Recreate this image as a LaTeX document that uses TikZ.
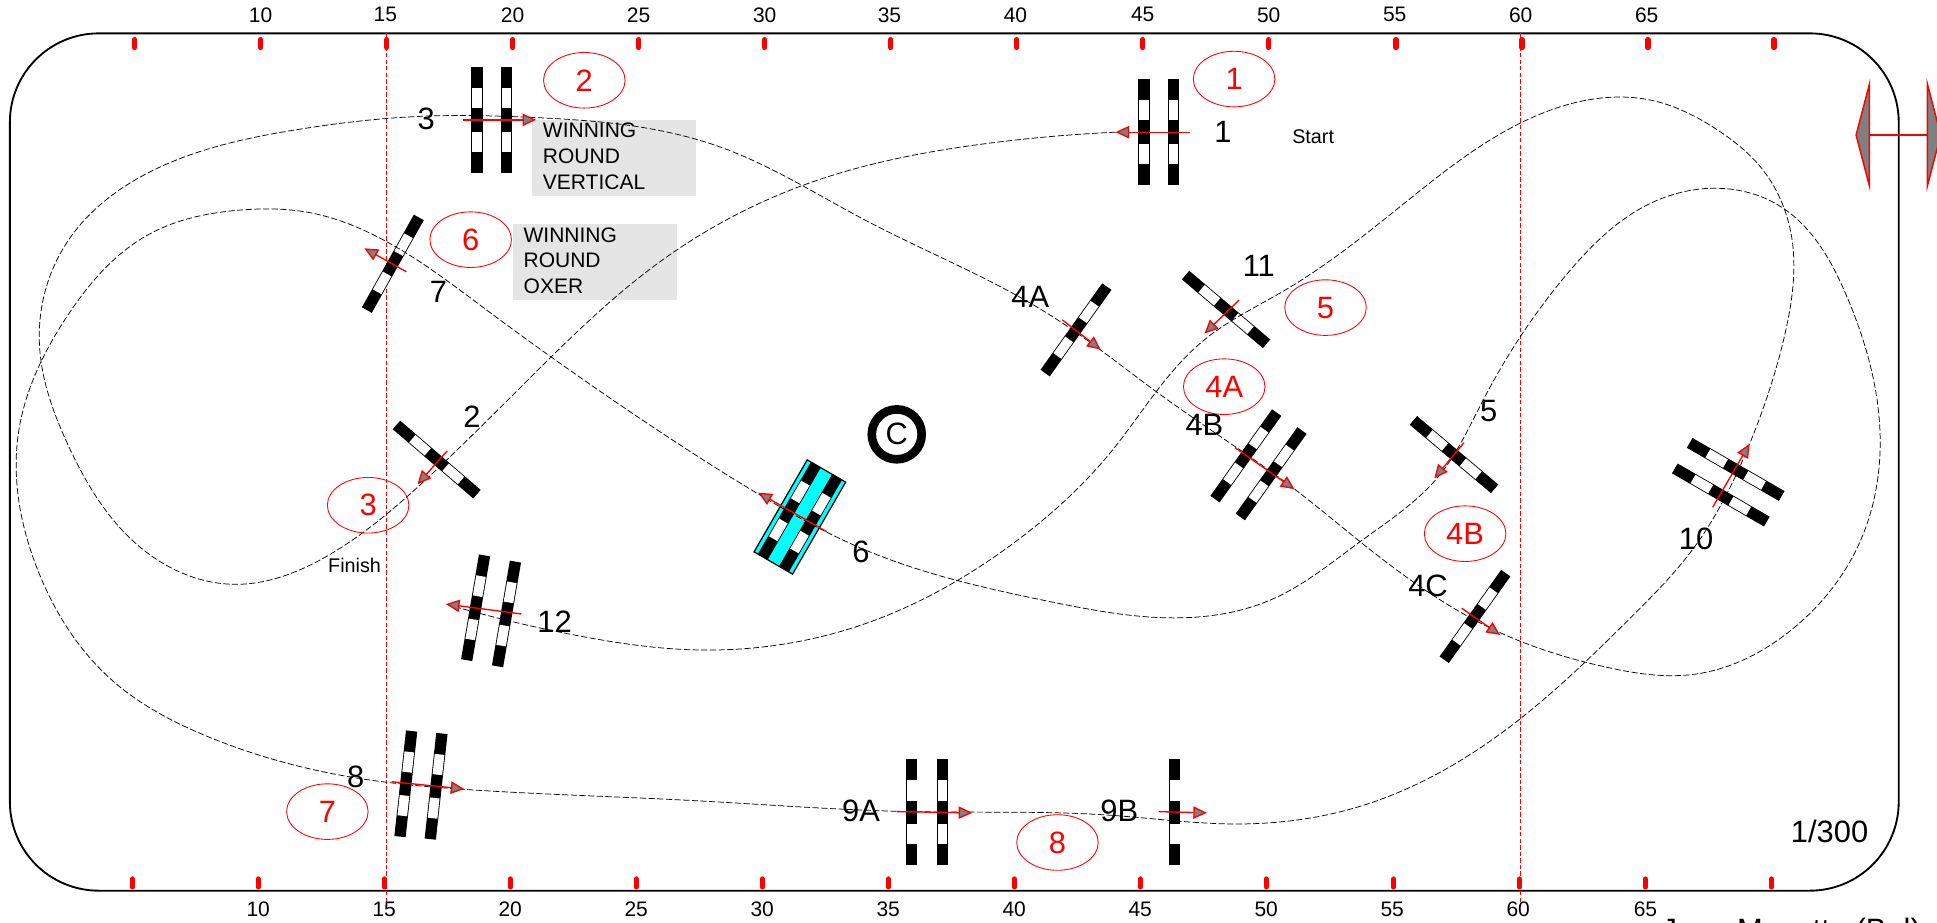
\documentclass[tikz,border=0pt]{standalone}
\usepackage{fontspec}
\setmainfont{Liberation Sans}
\usetikzlibrary{arrows.meta,shapes.geometric,hobby}
\definecolor{boxgray}{HTML}{E5E5E5}
\definecolor{aqua}{HTML}{00FFFF}
\tikzset{
 course/.style={black,line width=0.6pt,dash pattern=on 5pt off 2pt},
 runarrow/.style={red,line width=1.1pt,-{Triangle[length=11pt,width=10pt,fill=gray]}},
 centerline/.style={red,line width=0.6pt,dash pattern=on 3.5pt off 1.8pt},
 numel/.style={draw=red,line width=0.7pt,ellipse,minimum width=66pt,minimum height=45pt,inner sep=0pt,text=red,font=\fontsize{25}{30}\selectfont},
 lab/.style={font=\fontsize{25}{30}\selectfont,inner sep=0pt},
 ticklab/.style={font=\fontsize{17}{20}\selectfont,inner sep=0pt},
 smalllab/.style={font=\fontsize{16}{19}\selectfont,inner sep=0pt},
 boxlab/.style={font=\fontsize{17}{21}\selectfont,inner sep=0pt,anchor=west},
 tickmark/.style={red,line width=4.2pt,line cap=round},
 marker/.style={draw=red,fill=gray,line width=1.2pt,line join=miter},
}
\newcommand{\fencebar}{%
 \fill[black] (-43,-4.6) rectangle (43,4.6);
 \fill[white] (-26,-3.9) rectangle (-9.5,3.9);
 \fill[white] (9.5,-3.9) rectangle (26,3.9);
}
\newcommand{\fence}[3]{\begin{scope}[shift={(#1,#2)},rotate=#3]\fencebar\end{scope}}
\begin{document}
\begin{tikzpicture}[x=1pt,y=-1pt]
\useasboundingbox (0,0) rectangle (1568,747);
\clip (0,0) rectangle (1568,747);
\fill[white] (0,0) rectangle (1568,747);
% gray boxes
\fill[boxgray] (430.6,97.1) rectangle (563.4,158.7);
\fill[boxgray] (415.3,181.4) rectangle (548,242.9);
% arena
\draw[black,line width=1.5pt,rounded corners=72pt] (8,27) rectangle (1537,721);
\draw[centerline] (313,27) -- (313,732);
\draw[centerline] (1231,27) -- (1231,732);
% ticks
\foreach \x in {109,211,313,415,517,619,721,823,925,1027,1130,1232,1334,1436}
  \draw[tickmark] (\x,32) -- (\x,38.5);
\foreach \x in {107,209,311,413,515,617,719,821,923,1025,1128,1230,1332,1434}
  \draw[tickmark] (\x,711.5) -- (\x,718);
\foreach \x/\t in {211/10,312/15,415/20,517/25,619/30,720/35,822/40,925/45,1027/50,1129/55,1231/60,1333/65}
  \node[ticklab] (top\t) at (\x,12) {\t};
\foreach \x/\t in {209/10,311/15,413/20,515/25,617/30,719/35,821/40,923/45,1025/50,1127/55,1229/60,1332/65}
  \node[ticklab] (bot\t) at (\x,736) {\t};
% oxer with water
\begin{scope}[shift={(647.5,418.5)},rotate=60]
 \fill[aqua] (-43,-18) rectangle (43,18);
 \begin{scope}[yshift=9.9pt]\fencebar\end{scope}
 \begin{scope}[yshift=-9.9pt]\fencebar\end{scope}
 \draw[black,line width=1pt] (-43,-18) rectangle (43,18);
\end{scope}
% fences
\fence{386}{97}{90}\fence{410}{97}{90}
\fence{926}{107}{90}\fence{950}{107}{90}
\fence{318}{213.5}{60.7}
\fence{353.5}{372}{-40.7}
\fence{871}{267}{54.5}
\fence{992.5}{250.5}{-40.3}
\fence{1008.5}{369}{54.5}\fence{1029}{383.5}{54.5}
\fence{1177}{368}{-40.1}
\fence{1194}{499}{54.6}
\fence{1405}{380}{-30}\fence{1393}{400.7}{-30}
\fence{385}{492}{80.3}\fence{410}{497}{80.3}
\fence{328.5}{634.5}{83.7}\fence{353}{636.5}{83.7}
\fence{738}{657.5}{90}\fence{763}{657.5}{90}
\fence{951}{657.5}{90}
% course
\draw[course,use Hobby shortcut] (903,107) .. (800,116) .. (650,150) .. (530,215) .. (440,295) .. (345,388) .. (265,450) .. (190,473) .. (110,440) .. (55,360) .. (32,280) .. (55,195) .. (130,135) .. (240,105) .. (345,94) .. (430,95) .. (583,119) .. (700,178) .. (850,255) .. (940,320) .. (1048,396) .. (1101,438.5) .. (1214,512) .. (1300,540) .. (1370,546) .. (1450,510) .. (1505,440) .. (1522,360) .. (1495,240) .. (1439.5,166) .. (1387,152.4) .. (1336,164.6) .. (1270,220) .. (1200,325) .. (1165,385) .. (1101,438.5) .. (1030,485) .. (960,500) .. (850,487) .. (700,445) .. (614,400) .. (520,340) .. (394,251) .. (363,228) .. (309,193.5) .. (250,172) .. (195,170) .. (120,190) .. (55,255) .. (15,350) .. (30,460) .. (90,550) .. (170,597) .. (290,630) .. (376,639) .. (560,648) .. (738,657) .. (900,660) .. (1000,667) .. (1100,653) .. (1220,590) .. (1320,500) .. (1370,445) .. (1416,360) .. (1445,270) .. (1450,190) .. (1425,135) .. (1390,105) .. (1336,81) .. (1300,79) .. (1230,100) .. (1130,170) .. (1040,235) .. (975,275) .. (900,365) .. (820,440) .. (700,505) .. (560,526) .. (470,515) .. (361,489);
% arrows
\draw[runarrow] (375,97) -- (434,97);
\draw[runarrow] (963,107) -- (903,107);
\draw[runarrow] (329,220) -- (295,201);
\draw[runarrow] (362,365) -- (338,392);
\draw[runarrow] (860,259) -- (891,283);
\draw[runarrow] (1003,243) -- (975,270);
\draw[runarrow] (999.8,362.4) -- (1047.8,396);
\draw[runarrow] (1185.1,358.4) -- (1161,387.2);
\draw[runarrow] (1183.3,492.4) -- (1214.3,514);
\draw[runarrow] (1386.4,410.7) -- (1416.2,359.4);
\draw[runarrow] (422,497) -- (361,489);
\draw[runarrow] (317,632.8) -- (375.9,638.7);
\draw[runarrow] (726,657) -- (787,658);
\draw[runarrow] (938,657) -- (977,658);
\draw[runarrow] (669.2,430.4) -- (613.9,398.8);
% numbered ellipses
\node[numel] (e1) at (999,64) {1};
\node[numel] (e2) at (473,65) {2};
\node[numel] (e3) at (298,409) {3};
\node[numel] (e4a) at (991,313) {4A};
\node[numel] (e4b) at (1186,432) {4B};
\node[numel] (e5) at (1073,249) {5};
\node[numel] (e6) at (381,194) {6};
\node[numel] (e7) at (265,657) {7};
\node[numel] (e8) at (856,682) {8};
% jump numbers
\node[lab] (j1) at (990,107) {1};
\node[lab] (j2) at (382,337) {2};
\node[lab] (j3) at (345,96) {3};
\node[lab] (j4a) at (834,240) {4A};
\node[lab] (j4b) at (975,344) {4B};
\node[lab] (j4c) at (1156,474) {4C};
\node[lab] (j5) at (1205,333) {5};
\node[lab] (j6) at (697,447) {6};
\node[lab] (j7) at (355,236) {7};
\node[lab] (j8) at (288,629) {8};
\node[lab] (j9a) at (697,656) {9A};
\node[lab] (j9b) at (906,656) {9B};
\node[lab] (j10) at (1373,436) {10};
\node[lab] (j11) at (1019,215) {11};
\node[lab] (j12) at (449,503) {12};
\node[lab] (scale) at (1481,673) {1/300};
\node[smalllab] (start) at (1063,111) {Start};
\node[smalllab] (finish) at (287,458) {Finish};
\node[boxlab] (w1a) at (439.3,105.2) {WINNING};
\node[boxlab] (w1b) at (439.3,126.3) {ROUND};
\node[boxlab] (w1c) at (439.3,147.6) {VERTICAL};
\node[boxlab] (w2a) at (423.7,190.2) {WINNING};
\node[boxlab] (w2b) at (423.7,210.5) {ROUND};
\node[boxlab] (w2c) at (423.7,232) {OXER};
% judge circle
\draw[black,line width=7pt] (725.9,351.6) circle[radius=20.2];
\node[lab] (judge) at (725.9,351.6) {C};
% start and finish markers
\draw[red,line width=1.2pt] (1513.3,109.3) -- (1560.2,109.3);
\draw[marker] (1513.3,68) -- (1502.5,109.3) -- (1513.3,150.6) -- cycle;
\draw[marker] (1560.2,68) -- (1571,109.3) -- (1560.2,150.6) -- cycle;
% designer, cut by the page edge
\node[lab,anchor=base] (designer) at (1450,761) {Jean Mazotte (Bel)};
\end{tikzpicture}
\end{document}
